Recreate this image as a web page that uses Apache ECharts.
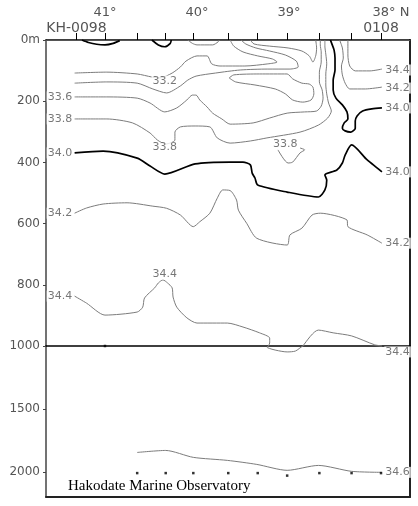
<!DOCTYPE html>
<html><head><meta charset="utf-8">
<script src="https://cdn.jsdelivr.net/npm/echarts@6/dist/echarts.min.js"></script>
<style>html,body{margin:0;padding:0;background:#fff}#c{width:418px;height:506px}</style>
</head><body><div id="c"></div>
<script>
// ---- axes / stations ----
const LAT_MIN = 37.685, LAT_MAX = 41.641;
const stationLats = [41.31, 41.00, 40.65, 40.34, 40.04, 39.66, 39.34, 39.02, 38.67, 38.32, 38.00];
const stationNames = ['KH-0098', '', '', '', '', '', '', '', '', '', '0108'];
const deepestObs = [null, 1000, 2010, 2010, 2010, 2010, 2010, 2030, 2010, 2010, 2010];
const latTicks = [38, 39, 40, 41];
const upperDepthTicks = [0, 200, 400, 600, 800, 1000];
const lowerDepthTicks = [1500, 2000];

// ---- salinity contour lines: [latitude (deg N), depth (m)] ----
const s340_surfA = [[41.25,0],[41.18,8],[41.09,14],[41.00,16],[40.91,11],[40.84,2]];
const s340_surfB = [[40.49,0],[40.42,16],[40.35,22],[40.29,11],[40.28,0]];
const s338_surf = [[40.10,0],[40.05,11],[40.00,16],[39.83,16],[39.77,6],[39.76,0]];
const s332 = [[41.33,108],[40.98,105],[40.65,111],[40.49,121],[40.40,124],[40.27,108],[40.18,88],[40.12,69],[40.00,52],[39.89,52],[39.84,78],[39.75,85],[39.48,85],[39.23,78],[39.13,72],[39.18,62],[39.34,52],[39.50,39],[39.60,20],[39.64,0]];
const s334a = [[41.33,141],[40.98,137],[40.65,141],[40.48,160],[40.33,173],[40.18,150],[40.10,131],[40.01,118],[39.80,108],[39.53,98],[39.23,95],[38.99,95],[38.90,88],[38.92,69],[39.04,49],[39.21,36],[39.36,26],[39.47,13],[39.52,0]];
const s334b = [[39.42,0],[39.38,13],[39.21,20],[39.01,26],[38.86,36],[38.78,52],[38.74,72],[38.71,52],[38.70,26],[38.71,0]];
const s336a = [[39.65,124],[39.60,114],[39.32,111],[39.02,111],[38.96,127],[38.86,141],[38.78,144],[38.74,154],[38.73,176],[38.76,196],[38.85,203],[38.96,196],[39.04,176],[39.15,160],[39.37,147],[39.58,137],[39.65,124]];
const s336 = [[41.33,186],[40.98,186],[40.65,190],[40.51,206],[40.35,235],[40.22,222],[40.11,196],[40.05,180],[40.01,180],[39.97,196],[39.89,219],[39.83,239],[39.73,258],[39.64,275],[39.39,271],[39.21,255],[39.02,239],[38.83,235],[38.70,232],[38.65,216],[38.63,190],[38.64,163],[38.67,137],[38.67,105],[38.65,72],[38.65,39],[38.66,16],[38.66,0]];
const s338 = [[41.33,258],[40.98,258],[40.70,271],[40.51,304],[40.43,327],[40.34,340],[40.24,327],[40.24,301],[40.18,284],[40.02,281],[39.86,284],[39.78,320],[39.64,337],[39.42,330],[39.24,320],[38.88,301],[38.68,278],[38.58,255],[38.54,232],[38.57,206],[38.59,176],[38.60,147],[38.60,111],[38.59,78],[38.60,46],[38.61,20],[38.61,0]];
const s338b = [[39.12,359],[39.01,402],[38.96,399],[38.88,369],[38.83,359],[38.88,353]];
const s340_east = [[38.55,0],[38.53,16],[38.51,33],[38.50,59],[38.50,98],[38.52,131],[38.52,163],[38.49,190],[38.42,212],[38.37,235],[38.36,258],[38.40,271],[38.42,288],[38.39,297],[38.33,301],[38.28,288],[38.28,265],[38.26,248],[38.20,232],[38.10,225],[37.99,222]];
const s342_east = [[38.45,0],[38.42,26],[38.41,59],[38.43,85],[38.42,114],[38.39,141],[38.34,160],[38.17,160],[37.99,154]];
const s344_east = [[38.36,0],[38.36,49],[38.34,85],[38.28,101],[38.12,101],[37.99,95]];
const s340 = [[41.33,369],[41.02,363],[40.65,386],[40.51,412],[40.35,438],[40.02,405],[39.64,399],[39.50,399],[39.42,408],[39.40,435],[39.37,451],[39.34,474],[39.02,497],[38.68,513],[38.61,490],[38.59,458],[38.61,441],[38.48,425],[38.42,402],[38.39,376],[38.32,343],[38.15,392],[37.99,431]];
const s342 = [[41.33,566],[41.20,549],[41.02,536],[40.76,532],[40.48,543],[40.33,550],[40.18,572],[40.04,610],[39.97,594],[39.86,566],[39.78,517],[39.72,490],[39.64,492],[39.57,523],[39.55,556],[39.46,599],[39.35,648],[39.02,670],[38.99,637],[38.86,615],[38.75,572],[38.66,566],[38.37,588],[38.36,610],[38.15,637],[37.99,664]];
const s344 = [[41.33,837],[41.20,860],[41.00,899],[40.65,889],[40.59,873],[40.57,843],[40.46,810],[40.42,794],[40.37,784],[40.32,794],[40.27,810],[40.26,840],[40.22,873],[40.11,908],[40.00,925],[39.67,925],[39.50,938],[39.32,957],[39.21,974],[39.21,990],[39.24,1008],[39.02,1047],[38.93,1040],[38.85,1000],[38.68,948],[38.52,957],[38.32,967],[38.07,996],[37.99,1000]];
const s346 = [[40.65,1846],[40.34,1830],[40.04,1885],[39.67,1909],[39.35,1941],[39.02,1988],[38.68,1949],[38.32,1996],[37.99,2004]];

// contour label positions: [lat, depth, text]
const upperLabels = [
  [41.49,186,'33.6'],[41.49,258,'33.8'],[41.49,369,'34.0'],[41.49,566,'34.2'],[41.49,837,'34.4'],
  [37.82,98,'34.4'],[37.82,157,'34.2'],[37.82,222,'34.0'],[37.82,431,'34.0'],[37.82,664,'34.2'],
  [40.35,134,'33.2'],[40.35,351,'33.8'],[39.04,340,'33.8'],[40.35,765,'34.4']
];
const lowerLabels = [[37.82,1047,'34.4'],[37.82,2004,'34.6']];

// which lines go in which panel, with their salinity level
const upperLines = [
  [34.0, s340_surfA],[34.0, s340_surfB],[33.8, s338_surf],[33.2, s332],[33.4, s334a],[33.4, s334b],
  [33.6, s336a],[33.6, s336],[33.8, s338],[33.8, s338b],[34.0, s340_east],[34.2, s342_east],[34.4, s344_east],
  [34.0, s340],[34.2, s342],[34.4, s344]
];
const lowerLines = [[34.4, s344],[34.6, s346]];

const FONT = 'DejaVu Sans';
const series = [];
function addLines(list, xi, yi) {
  list.forEach(([lvl, pts]) => {
    const thick = lvl === 34.0;
    series.push({
      type: 'line', xAxisIndex: xi, yAxisIndex: yi, data: pts, showSymbol: false, smooth: 0.25,
      silent: true, clip: true,
      lineStyle: { color: thick ? '#000' : '#7c7c7c', width: thick ? 1.7 : 1 }
    });
  });
}
addLines(upperLines, 0, 0);
addLines(lowerLines, 2, 2);

function addLabels(list, xi, yi) {
  series.push({
    type: 'scatter', xAxisIndex: xi, yAxisIndex: yi, z: 10, silent: true,
    symbolSize: 1, itemStyle: { color: 'rgba(0,0,0,0)' },
    data: list.map(d => ({ value: [d[0], d[1]], name: d[2] })),
    label: { show: true, position: 'inside', formatter: p => p.name, fontFamily: FONT, fontSize: 11,
      color: '#555', backgroundColor: '#fff', padding: [0, 1] }
  });
}
addLabels(upperLabels, 0, 0);
addLabels(lowerLabels, 2, 2);

series.push({
  type: 'scatter', xAxisIndex: 2, yAxisIndex: 2, z: 11, silent: true, clip: false,
  symbol: 'rect', symbolSize: 2.5, itemStyle: { color: '#000' },
  data: stationLats.map((lat, i) => deepestObs[i] == null ? null : [lat, deepestObs[i]]).filter(Boolean)
});

const hidden = { axisLabel: { show: false }, axisTick: { show: false }, splitLine: { show: false } };
const xBase = { type: 'value', min: LAT_MIN, max: LAT_MAX, inverse: true };

const option = {
  animation: false,
  backgroundColor: '#fff',
  title: { text: 'Hakodate Marine Observatory', left: 68, top: 479, padding: 0,
    textStyle: { fontFamily: 'Liberation Serif', fontSize: 15, fontWeight: 'normal', color: '#000' } },
  grid: [
    { left: 46, top: 40, width: 364, height: 306 },
    { left: 46, top: 346, width: 364, height: 151 }
  ],
  xAxis: [
    Object.assign({}, xBase, { gridIndex: 0, position: 'top',
      axisLine: { show: true, lineStyle: { color: '#000', width: 1.5 } },
      axisTick: { show: true, customValues: stationLats, length: 7, inside: false, lineStyle: { color: '#000' } },
      axisLabel: { show: true, customValues: stationLats.filter((v, i) => stationNames[i]),
        formatter: v => stationNames[stationLats.indexOf(v)], margin: 5, fontSize: 14, color: '#555', fontFamily: FONT },
      splitLine: { show: false } }),
    Object.assign({}, xBase, { gridIndex: 0, position: 'top', offset: 18,
      axisLine: { show: true, lineStyle: { color: '#555', width: 1 } },
      axisTick: { show: false }, splitLine: { show: false },
      axisLabel: { show: true, customValues: latTicks, margin: 3, fontSize: 13, color: '#555', fontFamily: FONT,
        formatter: v => v === 38 ? '{n|38° N}' : v + '°',
        rich: { n: { fontSize: 13, color: '#555', fontFamily: FONT, padding: [0, 0, 0, 20] } } } }),
    Object.assign({}, xBase, hidden, { gridIndex: 1, position: 'bottom',
      axisLine: { show: true, lineStyle: { color: '#222', width: 2 } } }),
    Object.assign({}, xBase, hidden, { gridIndex: 0, position: 'bottom',
      axisLine: { show: true, lineStyle: { color: '#000', width: 1.5 } } })
  ],
  yAxis: [
    { gridIndex: 0, type: 'value', min: 0, max: 1000, inverse: true,
      axisLine: { show: true, lineStyle: { color: '#444', width: 1.5 } },
      axisTick: { show: true, customValues: upperDepthTicks, length: 3, lineStyle: { color: '#444' } },
      axisLabel: { customValues: upperDepthTicks, formatter: v => v === 0 ? '0m' : String(v),
        fontSize: 12, color: '#555', margin: 6, fontFamily: FONT },
      splitLine: { show: false } },
    Object.assign({ gridIndex: 0, type: 'value', min: 0, max: 1000, inverse: true, position: 'right',
      axisLine: { show: true, lineStyle: { color: '#222', width: 2 } } }, hidden),
    { gridIndex: 1, type: 'value', min: 1000, max: 2200, inverse: true,
      axisLine: { show: true, lineStyle: { color: '#444', width: 1.5 } },
      axisTick: { show: true, customValues: lowerDepthTicks, length: 3, lineStyle: { color: '#444' } },
      axisLabel: { customValues: lowerDepthTicks, formatter: v => String(v),
        fontSize: 12, color: '#555', margin: 6, fontFamily: FONT },
      splitLine: { show: false } },
    Object.assign({ gridIndex: 1, type: 'value', min: 1000, max: 2200, inverse: true, position: 'right',
      axisLine: { show: true, lineStyle: { color: '#222', width: 2 } } }, hidden)
  ],
  series: series
};
echarts.init(document.getElementById('c'), null, { renderer: 'canvas' }).setOption(option);
</script></body></html>
